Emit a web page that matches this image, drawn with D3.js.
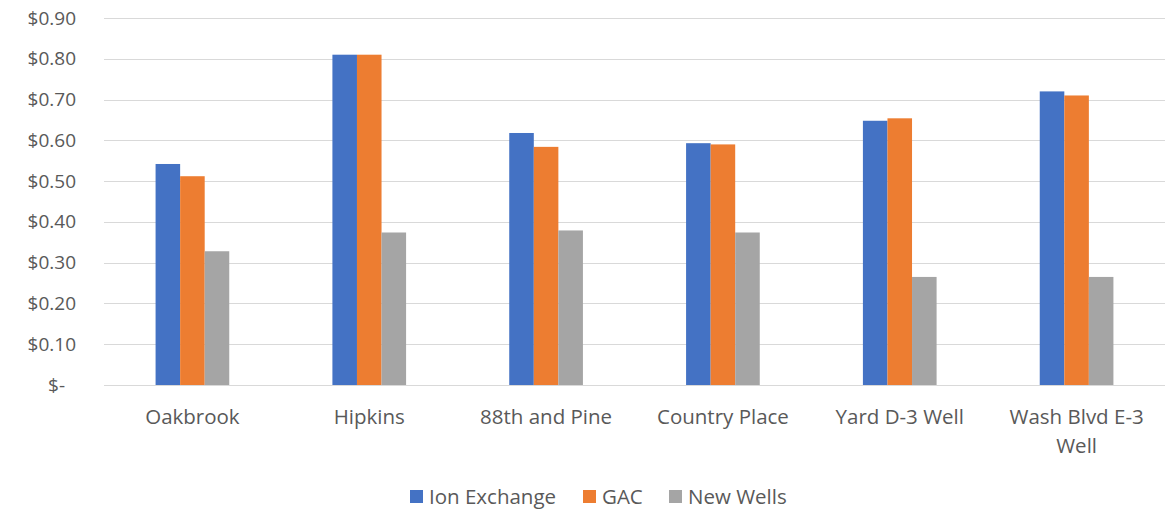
<!DOCTYPE html>
<html>
<head>
<meta charset="utf-8">
<script src="https://cdn.jsdelivr.net/npm/d3@7"></script>
<style>
body{margin:0;background:#fff;}
text{font-family:"Open Sans",sans-serif;fill:#595959;}
</style>
</head>
<body>
<svg id="chart" width="1172" height="513"></svg>
<script>
// data
var categories = ["Oakbrook","Hipkins","88th and Pine","Country Place","Yard D-3 Well","Wash Blvd E-3 Well"];
var series = ["Ion Exchange","GAC","New Wells"];
var ionExchange = [0.542,0.81,0.618,0.593,0.648,0.72];
var gac = [0.512,0.81,0.584,0.59,0.654,0.71];
var newWells = [0.328,0.374,0.379,0.374,0.265,0.265];
var yTicks = [0,0.1,0.2,0.3,0.4,0.5,0.6,0.7,0.8,0.9];
var colours = ["#4472c4","#ed7d31","#a5a5a5"];

var values = [ionExchange,gac,newWells];
var data = categories.map(function(c,i){
  return {name:c, vals: series.map(function(s,j){return {key:s, value:values[j][i], idx:j};})};
});

var svg = d3.select("#chart"),
    margin = {top:18,right:7,bottom:128,left:104},
    width = +svg.attr("width") - margin.left - margin.right,
    height = +svg.attr("height") - margin.top - margin.bottom;

var g = svg.append("g").attr("transform","translate("+margin.left+","+margin.top+")");

var x0 = d3.scaleBand().domain(categories).range([0,width]).padding(0);
var x1 = d3.scaleBand().domain(series).range([0,x0.bandwidth()]).paddingInner(0).paddingOuter(2.1);
var y = d3.scaleLinear().domain([0,0.9]).range([height,0]);
var c = d3.scaleOrdinal().domain(series).range(colours);

//gridlines
g.append("g").attr("class","grid")
  .selectAll("line").data(yTicks).enter().append("line")
  .attr("x1",0).attr("x2",width)
  .attr("y1",function(d){return Math.round(y(d))+0.5;})
  .attr("y2",function(d){return Math.round(y(d))+0.5;})
  .attr("stroke","#d9d9d9").attr("stroke-width",1.2);

//y axis labels
var yAxis = d3.axisLeft(y).tickValues(yTicks).tickSize(0).tickPadding(28)
  .tickFormat(function(d){return d===0 ? "$-" : "$"+d3.format(".2f")(d);});
var ya = g.append("g").call(yAxis);
ya.select(".domain").remove();
ya.selectAll("text").style("font-size","19px").attr("font-family",null)
  .attr("dx",function(d){return d===0 ? -11 : 0;});

//bars
var groups = g.selectAll("g.cat").data(data).enter().append("g").attr("class","cat")
  .attr("transform",function(d){return "translate("+x0(d.name)+",0)";});
groups.selectAll("rect").data(function(d){return d.vals;}).enter().append("rect")
  .attr("x",function(d){return x1(d.key);})
  .attr("width",x1.bandwidth())
  .attr("y",function(d){return y(d.value);})
  .attr("height",function(d){return height - y(d.value);})
  .attr("fill",function(d){return c(d.key);});

//category labels
var xAxis = d3.axisBottom(x0).tickSize(0).tickPadding(24);
var xa = g.append("g").attr("transform","translate(0,"+height+")").call(xAxis);
xa.select(".domain").remove();
xa.selectAll("text").style("font-size","20.5px").attr("font-family",null).call(wrap, x0.bandwidth()*0.92);

function wrap(text, w) {
  text.each(function() {
    var t = d3.select(this),
        words = t.text().split(/\s+/).reverse(),
        word, line = [], lineNumber = 0,
        yy = t.attr("y"), dy = parseFloat(t.attr("dy")),
        tspan = t.text(null).append("tspan").attr("x",0).attr("y",yy).attr("dy",dy+"em");
    while (word = words.pop()) {
      line.push(word);
      tspan.text(line.join(" "));
      if (tspan.node().getComputedTextLength() > w) {
        line.pop();
        tspan.text(line.join(" "));
        line = [word];
        lineNumber++;
        tspan = t.append("tspan").attr("x",0).attr("y",yy).attr("dy",(lineNumber*1.42+dy)+"em").text(word);
      }
    }
  });
}

//legend
var legendX = [410,583,669];
var legend = svg.append("g").attr("class","legend");
var li = legend.selectAll("g").data(series).enter().append("g")
  .attr("transform",function(d,i){return "translate("+legendX[i]+",490)";});
li.append("rect").attr("width",13).attr("height",13).attr("fill",function(d){return c(d);});
li.append("text").attr("x",19).attr("y",7).attr("dy","0.35em").style("font-size","20.5px").text(function(d){return d;});
</script>
</body>
</html>
